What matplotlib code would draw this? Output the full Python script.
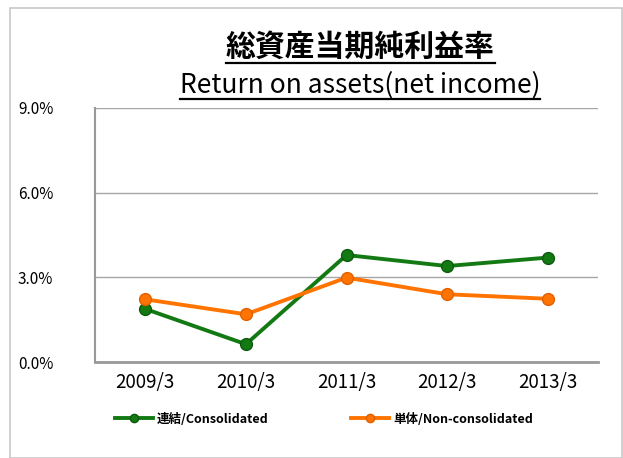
import matplotlib
matplotlib.use("Agg")
import matplotlib.pyplot as plt
from matplotlib.lines import Line2D
from matplotlib.patches import Rectangle
from matplotlib.ticker import FuncFormatter

plt.rcParams['font.family'] = ['Noto Sans CJK JP', 'DejaVu Sans']

years = ["2009/3", "2010/3", "2011/3", "2012/3", "2013/3"]
consolidated = [1.88, 0.63, 3.79, 3.40, 3.70]
non_consolidated = [2.22, 1.69, 2.99, 2.40, 2.24]
title_jp = "総資産当期純利益率"
title_en = "Return on assets(net income)"
label_con = "連結/Consolidated"
label_non = "単体/Non-consolidated"

green = "#137a13"
orange = "#ff7400"
grid_gray = "#a6a6a6"

fig = plt.figure(figsize=(6.23, 4.58), dpi=100)
fig.patches.append(Rectangle((0.016, 0.0), 0.982, 0.982, transform=fig.transFigure,
                             fill=False, edgecolor="#c8c8c8", linewidth=1.2))

ax = fig.add_axes([0.1525, 0.2096, 0.8075, 0.5546])
x = range(len(years))
ax.plot(x, consolidated, color=green, lw=2.8, marker="o", ms=8.5,
        markerfacecolor=green, markeredgecolor="#0c5a0c", label=label_con, zorder=3)
ax.plot(x, non_consolidated, color=orange, lw=2.8, marker="o", ms=8.5,
        markerfacecolor=orange, markeredgecolor="#e06000", label=label_non, zorder=3)

ax.set_xlim(-0.5, len(years) - 0.5)
ax.set_ylim(0, 9)
ax.set_yticks([0, 3, 6, 9])
ax.yaxis.set_major_formatter(FuncFormatter(lambda v, p: f"{v:.1f}%"))
ax.set_xticks(list(x))
ax.set_xticklabels(years)
ax.grid(axis="y", color=grid_gray, lw=1)
ax.set_axisbelow(True)
for s in ["top", "right"]:
    ax.spines[s].set_visible(False)
ax.spines["left"].set_color("#999999")
ax.spines["bottom"].set_color("#999999")
ax.spines["left"].set_linewidth(1.5)
ax.spines["bottom"].set_linewidth(2)
ax.tick_params(axis="y", length=0, pad=30, labelsize=11)
ax.tick_params(axis="x", length=0, pad=7, labelsize=13.5)

t1 = fig.text(0.578, 0.897, title_jp, ha="center", va="center", fontsize=21.5, weight="bold")
t2 = fig.text(0.578, 0.815, title_en, ha="center", va="center", fontsize=19)

leg = fig.legend(loc="center left", bbox_to_anchor=(0.167, 0.085), ncol=2, frameon=False,
                 fontsize=9, handlelength=3.0, columnspacing=6.6, handletextpad=0.35,
                 markerscale=0.7)
for txt in leg.get_texts():
    txt.set_fontweight("bold")

# underline the title lines
fig.canvas.draw()
r = fig.canvas.get_renderer()
for t in (t1, t2):
    bb = t.get_window_extent(r).transformed(fig.transFigure.inverted())
    fig.lines.append(Line2D([bb.x0, bb.x1], [bb.y0 - 0.002, bb.y0 - 0.002],
                            transform=fig.transFigure, color="black", lw=1.6))

fig.savefig("out.png", dpi=100)
